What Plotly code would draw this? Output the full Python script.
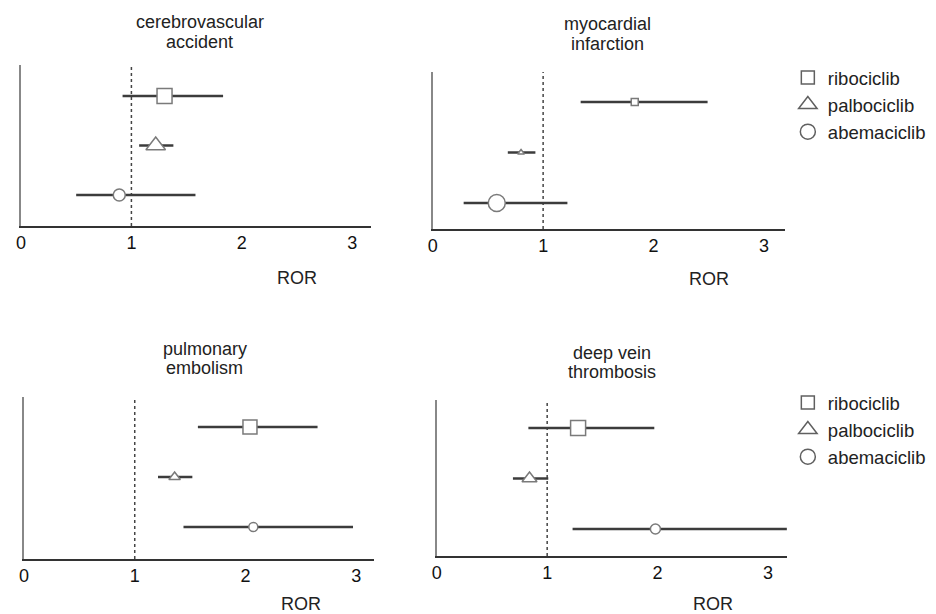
import plotly.graph_objects as go

W, H = 936, 614
OFF_X, OFF_Y = 12, 8  # page offset observed in the browser

drugs = ["ribociclib", "palbociclib", "abemaciclib"]
events = [["cerebrovascular", "accident"], ["myocardial", "infarction"],
          ["pulmonary", "embolism"], ["deep vein", "thrombosis"]]
ror = [[1.30, 1.22, 0.89], [1.83, 0.80, 0.58], [2.04, 1.36, 2.07], [1.28, 0.84, 1.98]]
ci_low = [[0.92, 1.07, 0.50], [1.34, 0.68, 0.28], [1.57, 1.21, 1.44], [0.83, 0.69, 1.23]]
ci_high = [[1.83, 1.38, 1.58], [2.49, 0.93, 1.22], [2.65, 1.52, 2.97], [1.97, 1.01, 3.30]]
row_pos = [3, 2, 1]
xticks = [0, 1, 2, 3]
x_title = "ROR"

# ---- styling / layout ----
FONT = "Liberation Sans, Arial, sans-serif"
symbols = ["square", "triangle-up", "circle"]
msizes = [[15, 17, 12], [7, 6, 17], [14, 10, 9], [15, 13, 10]]
dom_px = [((20, 372), (65, 226)), ((434, 788), (72, 229)),
          ((23, 375), (397, 559)), ((438, 790), (400, 556))]
xr = [[0, 3.17], [0, 3.19], [0, 3.16], [0, 3.17]]
yr = [[0.374, 3.626], [0.485, 3.594], [0.36, 3.60], [0.465, 3.554]]
title_px = [(200, 22, 42), (610, 24, 44), (205, 349, 368), (614, 353, 372)]
ror_y_px = [278, 279, 604, 604]


def px_x(v):
    return (v - OFF_X) / W


def px_y(v):
    return 1 - (v - OFF_Y) / H


fig = go.Figure()
layout = dict(width=W, height=H, margin=dict(l=0, r=0, t=0, b=0),
              paper_bgcolor="white", plot_bgcolor="white",
              font=dict(family=FONT, size=18, color="#222"),
              showlegend=True)
shapes, annots = [], []

for p in range(4):
    sfx = "" if p == 0 else str(p + 1)
    xa, ya = "x" + sfx, "y" + sfx
    (x0, x1), (y0, y1) = dom_px[p]
    layout["xaxis" + sfx] = dict(domain=[px_x(x0), px_x(x1)], range=xr[p], anchor=ya,
                                 tickvals=xticks, ticks="", showgrid=False, zeroline=False,
                                 showline=True, linecolor="#333", linewidth=1.5,
                                 tickfont=dict(size=18, color="#111"), fixedrange=True)
    layout["yaxis" + sfx] = dict(domain=[px_y(y1), px_y(y0)], range=yr[p], anchor=xa,
                                 showticklabels=False, ticks="", showgrid=False, zeroline=False,
                                 showline=True, linecolor="#888", linewidth=2, fixedrange=True)
    shapes.append(dict(type="line", xref=xa, yref=ya + " domain", x0=1, x1=1, y0=0, y1=1,
                       line=dict(color="#444", width=1.5, dash="3px,3px"), layer="below"))
    for d in range(3):
        v = ror[p][d]
        fig.add_trace(go.Scatter(
            x=[v], y=[row_pos[d]], xaxis=xa, yaxis=ya, mode="markers", showlegend=False,
            error_x=dict(type="data", symmetric=False,
                         array=[ci_high[p][d] - v], arrayminus=[v - ci_low[p][d]],
                         color="#3c3c3c", thickness=2.5, width=0),
            marker=dict(symbol=symbols[d], size=msizes[p][d], color="white",
                        line=dict(color="#7a7a7a", width=1.5)),
            cliponaxis=True, hoverinfo="skip"))
    cx, ty1, ty2 = title_px[p]
    for txt, ty in zip(events[p], (ty1, ty2)):
        annots.append(dict(text=txt, xref="paper", yref="paper", x=px_x(cx), y=px_y(ty),
                           xanchor="center", yanchor="middle", showarrow=False,
                           font=dict(size=18, color="#222")))
    annots.append(dict(text=x_title, xref=xa, yref="paper", x=2.5, y=px_y(ror_y_px[p]),
                       xanchor="center", yanchor="middle", showarrow=False,
                       font=dict(size=18, color="#222")))

leg_sizes = [13, 16, 15]
for lg in ["legend", "legend2"]:
    for d in range(3):
        fig.add_trace(go.Scatter(
            x=[None], y=[None], mode="markers", name=drugs[d], legend=lg,
            marker=dict(symbol=symbols[d], size=leg_sizes[d], color="white",
                        line=dict(color="#606060", width=1.5))))

leg_common = dict(xanchor="left", yanchor="top", font=dict(size=18.5, color="#222"),
                  bgcolor="rgba(0,0,0,0)", tracegroupgap=0, itemclick=False)
layout["legend"] = dict(x=px_x(791), y=px_y(59), **leg_common)
layout["legend2"] = dict(x=px_x(791), y=px_y(384), **leg_common)
layout["shapes"] = shapes
layout["annotations"] = annots
fig.update_layout(**layout)
fig.write_html("out.html")
